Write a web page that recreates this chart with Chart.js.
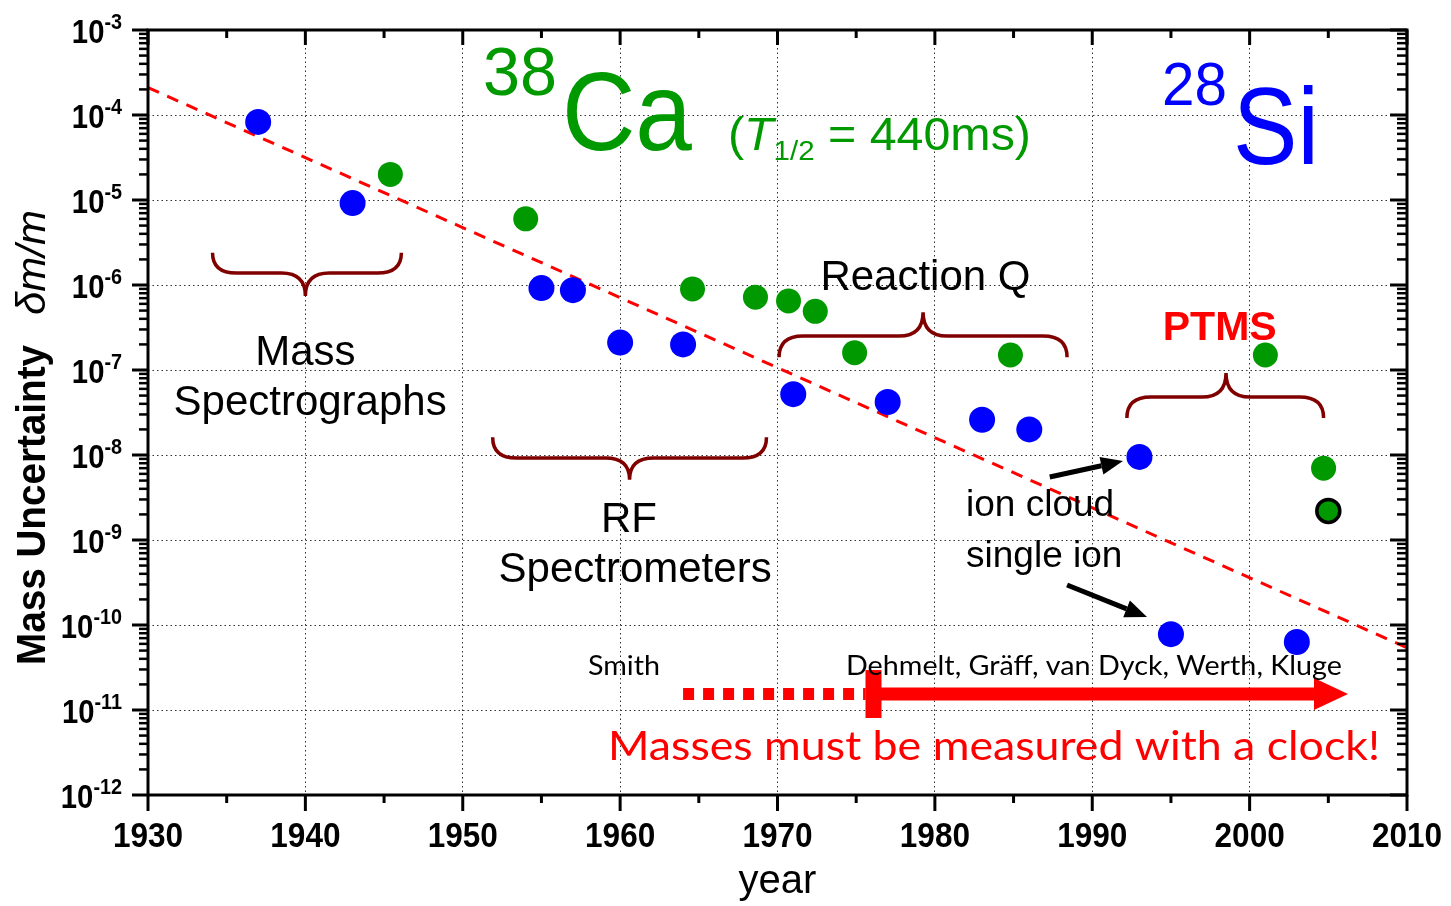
<!DOCTYPE html>
<html>
<head>
<meta charset="utf-8">
<script src="https://cdn.jsdelivr.net/npm/chart.js@4.4.1/dist/chart.umd.min.js"></script>
<style>
  html, body { margin: 0; padding: 0; background: #fff; }
  canvas { display: block; }
</style>
</head>
<body>
<canvas id="chart" width="1451" height="906"></canvas>
<script>
    // Mass measurements, 28Si (blue) and 38Ca (green)
    const siYears = [1937, 1943, 1955, 1957, 1960, 1964, 1971, 1977, 1983, 1986, 1993, 1995, 2003];
    const siValues = [8.3e-5, 9.2e-6, 9.2e-7, 8.7e-7, 2.1e-7, 2.0e-7, 5.2e-8, 4.2e-8, 2.6e-8, 2.0e-8, 9.5e-9, 7.8e-11, 6.3e-11];
    const caYears = [1945.4, 1954.0, 1964.6, 1968.6, 1970.7, 1972.4, 1974.9, 1984.8, 2001.0, 2004.7];
    const caValues = [2.0e-5, 6.0e-6, 9.0e-7, 7.2e-7, 6.5e-7, 4.9e-7, 1.6e-7, 1.5e-7, 1.5e-7, 7.0e-9];
    const caLatestYears = [2005.0];
    const caLatestValues = [2.2e-9];
    const trendYears = [1930, 2010];
    const trendValues = [2.1e-4, 5.4e-11];

    const yearTicks = [1930, 1940, 1950, 1960, 1970, 1980, 1990, 2000, 2010];
    const yearMinorTicks = [1935, 1945, 1955, 1965, 1975, 1985, 1995, 2005];
    const decadeExps = [-12, -11, -10, -9, -8, -7, -6, -5, -4, -3];

    const SANS = '"Liberation Sans", Arial, sans-serif';
    const COMIC = '"Comic Sans MS", Lato, sans-serif';
    const BRACE = '#800000';

    const toPoints = (xs, ys) => xs.map((x, i) => ({ x, y: ys[i] }));

    function text(ctx, str, x, y, font, color, opts) {
        opts = opts || {};
        ctx.save();
        ctx.font = font;
        ctx.fillStyle = color;
        ctx.textBaseline = 'alphabetic';
        const w = ctx.measureText(str).width;
        const sx = opts.width ? opts.width / w : (opts.sx || 1);
        let left = x;
        if (opts.align === 'center') left = x - w * sx / 2;
        if (opts.align === 'right') left = x - w * sx;
        ctx.translate(left, y);
        ctx.scale(sx, 1);
        ctx.fillText(str, 0, 0);
        ctx.restore();
    }

    function brace(ctx, x1, x2, xc, yEnd, yBar, yTip) {
        const r = 24;
        ctx.save();
        ctx.strokeStyle = BRACE;
        ctx.lineWidth = 3.5;
        ctx.beginPath();
        ctx.moveTo(x1, yEnd);
        ctx.quadraticCurveTo(x1, yBar, x1 + r, yBar);
        ctx.lineTo(xc - r, yBar);
        ctx.quadraticCurveTo(xc, yBar, xc, yTip);
        ctx.quadraticCurveTo(xc, yBar, xc + r, yBar);
        ctx.lineTo(x2 - r, yBar);
        ctx.quadraticCurveTo(x2, yBar, x2, yEnd);
        ctx.stroke();
        ctx.restore();
    }

    function arrow(ctx, x0, y0, x1, y1, width, headLen, headW, color) {
        const ang = Math.atan2(y1 - y0, x1 - x0);
        const bx = x1 - headLen * Math.cos(ang);
        const by = y1 - headLen * Math.sin(ang);
        const nx = Math.sin(ang) * headW / 2;
        const ny = Math.cos(ang) * headW / 2;
        ctx.save();
        ctx.strokeStyle = color;
        ctx.fillStyle = color;
        ctx.lineWidth = width;
        ctx.beginPath();
        ctx.moveTo(x0, y0);
        ctx.lineTo(bx, by);
        ctx.stroke();
        ctx.beginPath();
        ctx.moveTo(x1, y1);
        ctx.lineTo(bx + nx, by - ny);
        ctx.lineTo(bx - nx, by + ny);
        ctx.closePath();
        ctx.fill();
        ctx.restore();
    }

    const annotations = {
        id: 'annotations',
        afterDatasetsDraw(chart) {
            const ctx = chart.ctx;
            const xs = chart.scales.x;
            const ys = chart.scales.y;
            const X = (year) => xs.getPixelForValue(year);
            const Y = (exp) => ys.getPixelForValue(Math.pow(10, exp));

            // technique brackets
            brace(ctx, X(1934.1), X(1946.1), X(1940.0), Y(-5.62), Y(-5.86), Y(-6.13));
            brace(ctx, X(1951.9), X(1969.3), X(1960.6), Y(-7.79), Y(-8.035), Y(-8.29));
            brace(ctx, X(1970.1), X(1988.4), X(1979.25), Y(-6.85), Y(-6.6), Y(-6.32));
            brace(ctx, X(1992.2), X(2004.7), X(1998.5), Y(-7.565), Y(-7.318), Y(-7.035));

            text(ctx, 'Mass', X(1940.0), Y(-6.94), '42px ' + SANS, '#000', { align: 'center' });
            text(ctx, 'Spectrographs', X(1940.3), Y(-7.53), '42px ' + SANS, '#000', { align: 'center' });
            text(ctx, 'RF', X(1960.56), Y(-8.9), '42px ' + SANS, '#000', { align: 'center' });
            text(ctx, 'Spectrometers', X(1960.95), Y(-9.49), '42px ' + SANS, '#000', { align: 'center' });
            text(ctx, 'Reaction Q', X(1979.4), Y(-6.06), '42px ' + SANS, '#000', { align: 'center' });
            text(ctx, 'PTMS', X(1998.1), Y(-6.647), 'bold 41px ' + SANS, '#ff0000', { align: 'center' });
            text(ctx, 'ion cloud', X(1981.98), Y(-8.718), '37px ' + SANS, '#000');
            text(ctx, 'single ion', X(1981.98), Y(-9.318), '37px ' + SANS, '#000');

            arrow(ctx, X(1987.3), Y(-8.259), X(1991.95), Y(-8.071), 5, 22, 18, '#000');
            arrow(ctx, X(1988.4), Y(-9.529), X(1993.48), Y(-9.906), 5, 22, 18, '#000');

            // isotope labels
            text(ctx, '38', X(1951.29), Y(-3.765), '68px ' + SANS, '#009900', { width: 74 });
            text(ctx, 'Ca', X(1956.3), Y(-4.41), '112px ' + SANS, '#009900', { width: 130 });
            let hx = X(1966.85);
            const hy = Y(-4.41);
            const parts = [
                ['(', '46px ' + SANS, 0],
                ['T', 'italic 46px ' + SANS, 0],
                ['1/2', '28px ' + SANS, 10],
                [' = 440ms)', '46px ' + SANS, 0],
            ];
            let total = 0;
            parts.forEach(([s, f]) => { ctx.font = f; total += ctx.measureText(s).width; });
            const k = 303 / total;
            parts.forEach(([s, f, dy]) => {
                ctx.font = f;
                const w = ctx.measureText(s).width * k;
                text(ctx, s, hx, hy + dy, f, '#009900', { sx: k });
                hx += w;
            });
            text(ctx, '28', X(1994.43), Y(-3.88), '62px ' + SANS, '#0000ff', { width: 65 });
            text(ctx, 'Si', X(1998.94), Y(-4.576), '110px ' + SANS, '#0000ff', { width: 86 });

            // Penning trap arrow
            const ay = Y(-10.812);
            ctx.save();
            ctx.strokeStyle = '#ff0000';
            ctx.fillStyle = '#ff0000';
            ctx.lineWidth = 12;
            ctx.setLineDash([11, 9]);
            ctx.beginPath();
            ctx.moveTo(X(1964.0), ay);
            ctx.lineTo(X(1975.6), ay);
            ctx.stroke();
            ctx.setLineDash([]);
            const barX = X(1976.1);
            ctx.fillRect(barX - 8, Y(-10.53), 16, Y(-11.094) - Y(-10.53));
            ctx.restore();
            arrow(ctx, barX, ay, X(2006.25), ay, 13, 34, 32, '#ff0000');

            text(ctx, 'Smith', X(1957.96), Y(-10.588), '26px ' + COMIC, '#000', { width: 72 });
            text(ctx, 'Dehmelt, Gräff, van Dyck, Werth, Kluge', X(1974.35), Y(-10.588), '26px ' + COMIC, '#000', { width: 496 });
            text(ctx, 'Masses must be measured with a clock!', X(1959.23), Y(-11.588), '40px ' + COMIC, '#ff0000', { width: 772 });
        },
        afterDraw(chart) {
            const ctx = chart.ctx;
            const a = chart.chartArea;
            const xs = chart.scales.x;
            const ys = chart.scales.y;
            ctx.save();
            ctx.strokeStyle = '#000';
            ctx.lineCap = 'butt';

            const hTick = (x, y0, y1, w) => { ctx.lineWidth = w; ctx.beginPath(); ctx.moveTo(x, y0); ctx.lineTo(x, y1); ctx.stroke(); };
            const vTick = (y, x0, x1, w) => { ctx.lineWidth = w; ctx.beginPath(); ctx.moveTo(x0, y); ctx.lineTo(x1, y); ctx.stroke(); };

            yearTicks.forEach((v) => {
                const x = xs.getPixelForValue(v);
                hTick(x, a.bottom, a.bottom + 16, 3);
                hTick(x, a.top, a.top + 15, 3);
            });
            yearMinorTicks.forEach((v) => {
                const x = xs.getPixelForValue(v);
                hTick(x, a.bottom, a.bottom + 8, 3);
                hTick(x, a.top, a.top + 8, 3);
            });
            decadeExps.forEach((e) => {
                const y = ys.getPixelForValue(Math.pow(10, e));
                vTick(y, a.left - 16, a.left, 3);
                vTick(y, a.right - 17, a.right, 3);
                if (e === -3) return;
                for (let m = 2; m <= 9; m++) {
                    const ym = ys.getPixelForValue(m * Math.pow(10, e));
                    vTick(ym, a.left - 9, a.left, 2.5);
                    vTick(ym, a.right - 10, a.right, 2.5);
                }
            });

            ctx.lineWidth = 3;
            ctx.strokeRect(a.left, a.top, a.right - a.left, a.bottom - a.top);
            ctx.restore();

            // tick labels
            yearTicks.forEach((v) => {
                text(ctx, String(v), xs.getPixelForValue(v), a.bottom + 52, 'bold 35px ' + SANS, '#000', { align: 'center', sx: 0.9 });
            });
            decadeExps.forEach((e) => {
                const y = ys.getPixelForValue(Math.pow(10, e));
                const sup = '-' + Math.abs(e);
                ctx.font = 'bold 22px ' + SANS;
                const sw = ctx.measureText(sup).width * 0.9;
                const right = a.left - 26;
                text(ctx, sup, right, y - 1, 'bold 22px ' + SANS, '#000', { align: 'right', sx: 0.9 });
                text(ctx, '10', right - sw, y + 13, 'bold 34px ' + SANS, '#000', { align: 'right', sx: 0.86 });
            });

            // axis titles
            text(ctx, 'year', (a.left + a.right) / 2, 893, '40px ' + SANS, '#000', { align: 'center' });
            ctx.save();
            ctx.translate(45, 665);
            ctx.rotate(-Math.PI / 2);
            text(ctx, 'Mass Uncertainty', 0, 0, 'bold 41px ' + SANS, '#000', { width: 320 });
            text(ctx, 'δm/m', 350, 0, 'italic 41px ' + SANS, '#000', { width: 105 });
            ctx.restore();
        },
    };

    new Chart(document.getElementById('chart'), {
        type: 'scatter',
        data: {
            datasets: [
                { data: toPoints(siYears, siValues), backgroundColor: '#0000ff', borderWidth: 0, pointRadius: 13 },
                { data: toPoints(caYears, caValues), backgroundColor: '#009900', borderWidth: 0, pointRadius: 12.5 },
                { data: toPoints(caLatestYears, caLatestValues), backgroundColor: '#009900', borderColor: '#000', borderWidth: 3.5, pointRadius: 11.5 },
                { type: 'line', data: toPoints(trendYears, trendValues), borderColor: '#ff0000', borderDash: [12, 9], borderWidth: 3, pointRadius: 0, fill: false },
            ],
        },
        options: {
            responsive: false,
            animation: false,
            events: [],
            layout: { padding: { top: 30, right: 44, left: 0, bottom: 0 } },
            plugins: { legend: { display: false }, tooltip: { enabled: false } },
            scales: {
                x: {
                    type: 'linear', min: 1930, max: 2010,
                    afterBuildTicks: (s) => { s.ticks = yearTicks.map((v) => ({ value: v })); },
                    afterFit: (s) => { s.height = 111; },
                    ticks: { display: false },
                    grid: { color: '#333', lineWidth: 1, drawTicks: false },
                    border: { display: false, dash: [1.5, 3] },
                },
                y: {
                    type: 'logarithmic', min: 1e-12, max: 1e-3,
                    afterBuildTicks: (s) => { s.ticks = decadeExps.map((e) => ({ value: Math.pow(10, e) })); },
                    afterFit: (s) => { s.width = 148; },
                    ticks: { display: false },
                    grid: { color: '#333', lineWidth: 1, drawTicks: false },
                    border: { display: false, dash: [1.5, 3] },
                },
            },
        },
        plugins: [annotations],
    });
</script>
</body>
</html>
